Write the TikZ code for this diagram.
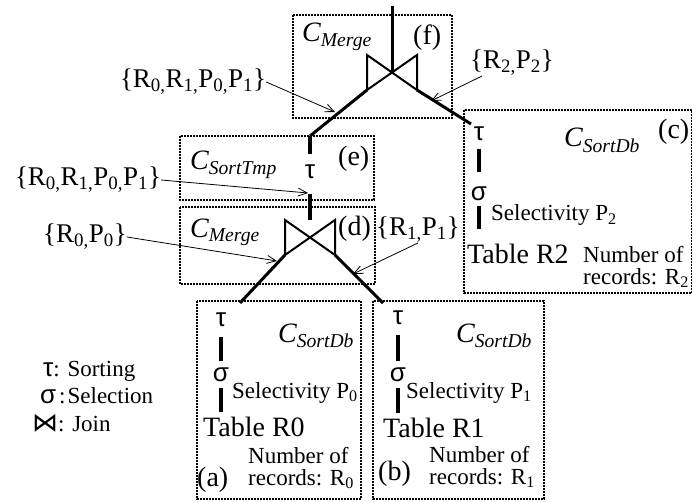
\documentclass[tikz,border=0pt]{standalone}
\usepackage{fontspec}
\setmainfont{Liberation Serif}
\newfontfamily\greekfont{Liberation Sans}
\newfontfamily\joinfont{DejaVu Sans}
\usetikzlibrary{arrows.meta}

\begin{document}
\begin{tikzpicture}[x=1pt, y=-1pt, >={Straight Barb[length=9pt,width=8pt]},
		every node/.style={inner sep=0pt},
		zone/.style={line width=1.6pt, dash pattern=on 1.6pt off 1.4pt},
		branch/.style={line width=3pt},
		stem/.style={line width=4pt},
		bowtie/.style={line width=2pt, line join=miter},
		note/.style={->, line width=0.8pt},
		grk/.style={font=\greekfont\fontsize{26}{28}\selectfont},
		tbl/.style={font=\fontsize{28}{30}\selectfont, anchor=base west},
		cost/.style={font=\fontsize{28}{30}\selectfont\itshape, anchor=base west},
		caselbl/.style={font=\fontsize{28}{30}\selectfont, anchor=base west},
		small/.style={font=\fontsize{23}{22}\selectfont, anchor=base west, align=left},
		setlbl/.style={font=\fontsize{27}{30}\selectfont}]
		\useasboundingbox (0,0) rectangle (692,502);
		\draw[zone] (293,15) rectangle (452,118);
		\draw[zone] (180,136) rectangle (374,200);
		\draw[zone] (180,207) rectangle (375,284);
		\draw[zone] (464,110) rectangle (692,293);
		\draw[zone] (197,301) rectangle (361,499);
		\draw[zone] (373,301) rectangle (544,499);
		\coordinate (root) at (392,6);
		\coordinate (jf) at (392,72.5);
		\coordinate (jd) at (310,237.5);
		\coordinate (jf-l) at (367,90);
		\coordinate (jf-r) at (417,90);
		\coordinate (jd-t) at (310,220);
		\coordinate (jd-l) at (285,255);
		\coordinate (jd-r) at (335,255);
		\coordinate (e-in) at (310,136);
		\coordinate (c-in) at (471,124);
		\coordinate (a-in) at (240,303);
		\coordinate (b-in) at (383,303);
		\draw[bowtie] (jf) +(-25,-17.5) -- +(25,17.5) -- +(25,-17.5) -- +(-25,17.5) -- cycle;
		\draw[bowtie] (jd) +(-25,-17.5) -- +(25,17.5) -- +(25,-17.5) -- +(-25,17.5) -- cycle;
		\node[grk] (tauE) at (310,171.5) {τ};
		\node[grk] (tauC) at (479,133.5) {τ};
		\node[grk] (sigC) at (479,193.5) {σ};
		\node[grk] (tauA) at (221,319.5) {τ};
		\node[grk] (sigA) at (221,375) {σ};
		\node[grk] (tauB) at (398,318) {τ};
		\node[grk] (sigB) at (398,375) {σ};
		\node[tbl] (tabC) at (467,263) {Table R2};
		\node[tbl] (tabA) at (203,436) {Table R0};
		\node[tbl] (tabB) at (383,437) {Table R1};
		\draw[branch] (root) -- (jf);
		\draw[branch] (jf-l) -- (e-in);
		\draw[stem, shorten >=10pt] (e-in) -- (tauE.north);
		\draw[stem, shorten <=15pt] (tauE.south) -- (jd-t);
		\draw[branch] (jf-r) -- (c-in);
		\draw[branch] (jd-l) -- (a-in);
		\draw[branch] (jd-r) -- (b-in);
		\draw[stem, shorten <=8pt, shorten >=14pt] (tauC.south) -- (sigC.north);
		\draw[stem, shorten <=5pt, shorten >=14pt] (sigC.south) -- (sigC.south |- tabC.north);
		\draw[stem, shorten <=10pt, shorten >=7pt] (tauA.south) -- (sigA.north);
		\draw[stem, shorten <=6pt, shorten >=4pt] (sigA.south) -- (sigA.south |- tabA.north);
		\draw[stem, shorten <=10pt, shorten >=7pt] (tauB.south) -- (sigB.north);
		\draw[stem, shorten <=6pt, shorten >=4pt] (sigB.south) -- (sigB.south |- tabB.north);
		\node[cost] (cf) at (302,42) {C\textsubscript{Merge}};
		\node[cost] (ce) at (190,170) {C\textsubscript{SortTmp}};
		\node[cost] (cd) at (190,237) {C\textsubscript{Merge}};
		\node[cost] (cc) at (564,147) {C\textsubscript{SortDb}};
		\node[cost] (ca) at (278,342) {C\textsubscript{SortDb}};
		\node[cost] (cb) at (456,342) {C\textsubscript{SortDb}};
		\node[caselbl] (lf) at (413,45) {(f)};
		\node[caselbl] (le) at (338,166) {(e)};
		\node[caselbl] (ld) at (338,236) {(d)};
		\node[caselbl] (lc) at (658,139) {(c)};
		\node[caselbl] (la) at (197,486) {(a)};
		\node[caselbl] (lb) at (378,480) {(b)};
		\node[small] (selC) at (491,221) {Selectivity P\textsubscript{2}};
		\node[small] (selA) at (232,398) {Selectivity P\textsubscript{0}};
		\node[small] (selB) at (406,398) {Selectivity P\textsubscript{1}};
		\node[small] (numC) at (583,284) {Number of\\records: R\textsubscript{2}};
		\node[small] (numA) at (248,485) {Number of\\records: R\textsubscript{0}};
		\node[small] (numB) at (429,484) {Number of\\records: R\textsubscript{1}};
		\node[setlbl] (s1) at (193,82) {\{R\textsubscript{0,}R\textsubscript{1,}P\textsubscript{0,}P\textsubscript{1}\}};
		\node[setlbl] (s2) at (88,180) {\{R\textsubscript{0,}R\textsubscript{1,}P\textsubscript{0,}P\textsubscript{1}\}};
		\node[setlbl] (s3) at (85,237) {\{R\textsubscript{0,}P\textsubscript{0}\}};
		\node[setlbl] (s4) at (418,230) {\{R\textsubscript{1,}P\textsubscript{1}\}};
		\node[setlbl] (s5) at (512,63) {\{R\textsubscript{2,}P\textsubscript{2}\}};
		\coordinate (t1) at (335,112);
		\coordinate (t2) at (308,193);
		\coordinate (t3) at (277,261);
		\coordinate (t4) at (353,274);
		\coordinate (t5) at (431,101);
		\draw[note] (s1.east) -- (t1);
		\draw[note] (s2.east) -- (t2);
		\draw[note] (s3.east) -- (t3);
		\draw[note] (s4.south) -- (t4);
		\draw[note] ([xshift=12pt]s5.south west) -- (t5);
		\node[small] (keyTau) at (43,376) {{\greekfont\fontsize{26}{28}\selectfont τ}: Sorting};
		\node[small] (keySig) at (40,403) {{\greekfont\fontsize{26}{28}\selectfont σ}\hspace{3pt}:\hspace{2pt}Selection};
		\node[small] (keyJoin) at (32,431) {{\joinfont\fontsize{26}{28}\selectfont ⋈}: Join};
	\end{tikzpicture}
\end{document}
